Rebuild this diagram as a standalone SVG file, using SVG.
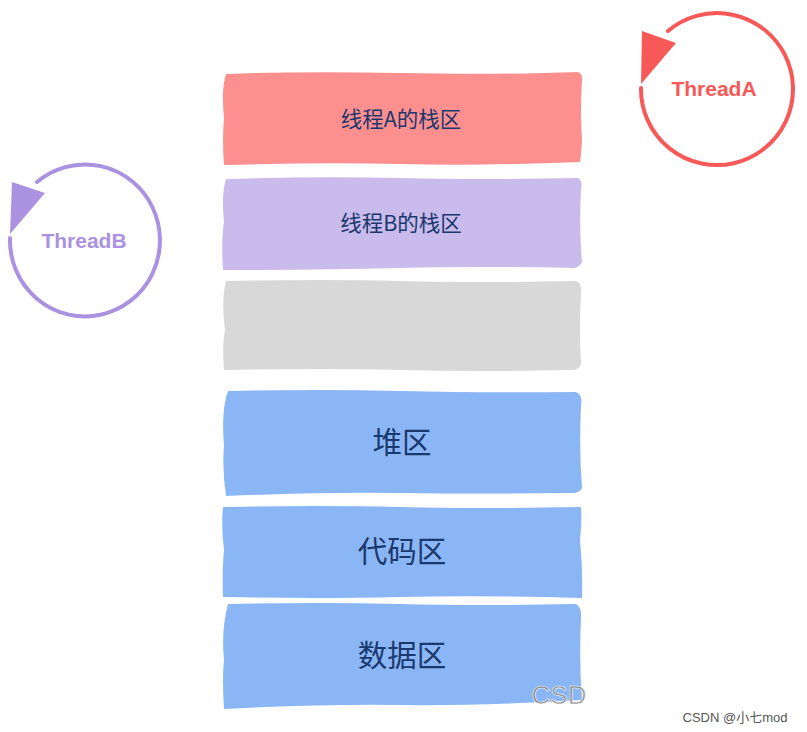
<svg xmlns="http://www.w3.org/2000/svg" width="807" height="732" viewBox="0 0 807 732">
<style>
.lbl{font-family:"Noto Sans CJK SC","Liberation Sans",sans-serif;fill:#1b386e;text-anchor:middle;dominant-baseline:central}
.sm{font-size:21.5px}
.lg{font-size:29.5px}
.thr{font-family:"Liberation Sans",Arial,sans-serif;font-weight:bold;font-size:21px;text-anchor:middle;dominant-baseline:central}
.ring{fill:none;stroke-width:4;stroke-linecap:round}
</style>
<rect width="807" height="732" fill="#ffffff"/>
<g id="stackA">
<path d="M226 74 Q300 71 400 73 T578 72 Q583 74 582 80 Q580 110 582 140 Q581 158 580 162 Q480 166 400 164 T224 165 Q222 140 224 118 Q221 90 226 74 Z" fill="#fe8f8f"/>
<text class="lbl sm" x="401" y="117">线程A的栈区</text>
</g>
<g id="stackB">
<path d="M226 179 Q320 176 400 178 T578 178 Q583 181 581 190 Q579 230 582 262 Q580 267 574 268 Q480 266 400 268 T223 270 Q221 240 224 222 Q221 195 226 179 Z" fill="#c9bbec"/>
<text class="lbl sm" x="401" y="221">线程B的栈区</text>
</g>
<g id="free">
<path d="M226 281 Q320 279 400 281 T576 281 Q582 283 581 292 Q579 330 581 364 Q579 370 572 370 Q480 372 400 370 T224 370 Q222 345 225 330 Q221 300 226 281 Z" fill="#d8d8d8"/>
</g>
<g id="heap">
<path d="M228 391 Q320 389 400 391 T576 392 Q583 395 581 405 Q579 450 582 488 Q580 493 572 493 Q480 494 400 493 T226 496 Q222 470 224 445 Q221 410 228 391 Z" fill="#8ab6f5"/>
<text class="lbl lg" x="402" y="440">堆区</text>
</g>
<g id="code">
<path d="M223 507 Q320 505 400 507 T581 507 Q582 520 580 540 Q583 570 582 598 Q480 595 400 597 T223 597 Q222 570 224 550 Q221 525 223 507 Z" fill="#8ab6f5"/>
<text class="lbl lg" x="402" y="549">代码区</text>
</g>
<g id="data">
<path d="M228 604 Q320 602 400 604 T576 604 Q582 607 581 618 Q579 660 582 700 Q480 706 400 705 T224 709 Q222 680 224 660 Q221 630 228 604 Z" fill="#8ab6f5"/>
<text class="lbl lg" x="402" y="653">数据区</text>
</g>
<g id="threadA">
<path class="ring" stroke="#f75858" d="M641 88 A76 76 0 1 0 668 31"/>
<polygon points="642,31 676,43 641,84" fill="#f75858"/>
<text class="thr" x="714" y="88" fill="#f75858">ThreadA</text>
</g>
<g id="threadB">
<path class="ring" stroke="#aa92e0" d="M10 238 A75 76 0 1 0 37 182"/>
<polygon points="12,182 45,193 10,234" fill="#aa92e0"/>
<text class="thr" x="84" y="240" fill="#aa92e0">ThreadB</text>
</g>
<g id="connectors"></g>
<text x="559" y="704" font-family="Liberation Sans,Arial,sans-serif" font-size="26" fill="#8a8a8a" stroke="#ffffff" stroke-width="0.6" text-anchor="middle" opacity="0.9">CSD</text>
<text x="735" y="722" font-family="Liberation Sans,'Noto Sans CJK SC',sans-serif" font-size="13" fill="#555" text-anchor="middle">CSDN @小七mod</text>
</svg>
